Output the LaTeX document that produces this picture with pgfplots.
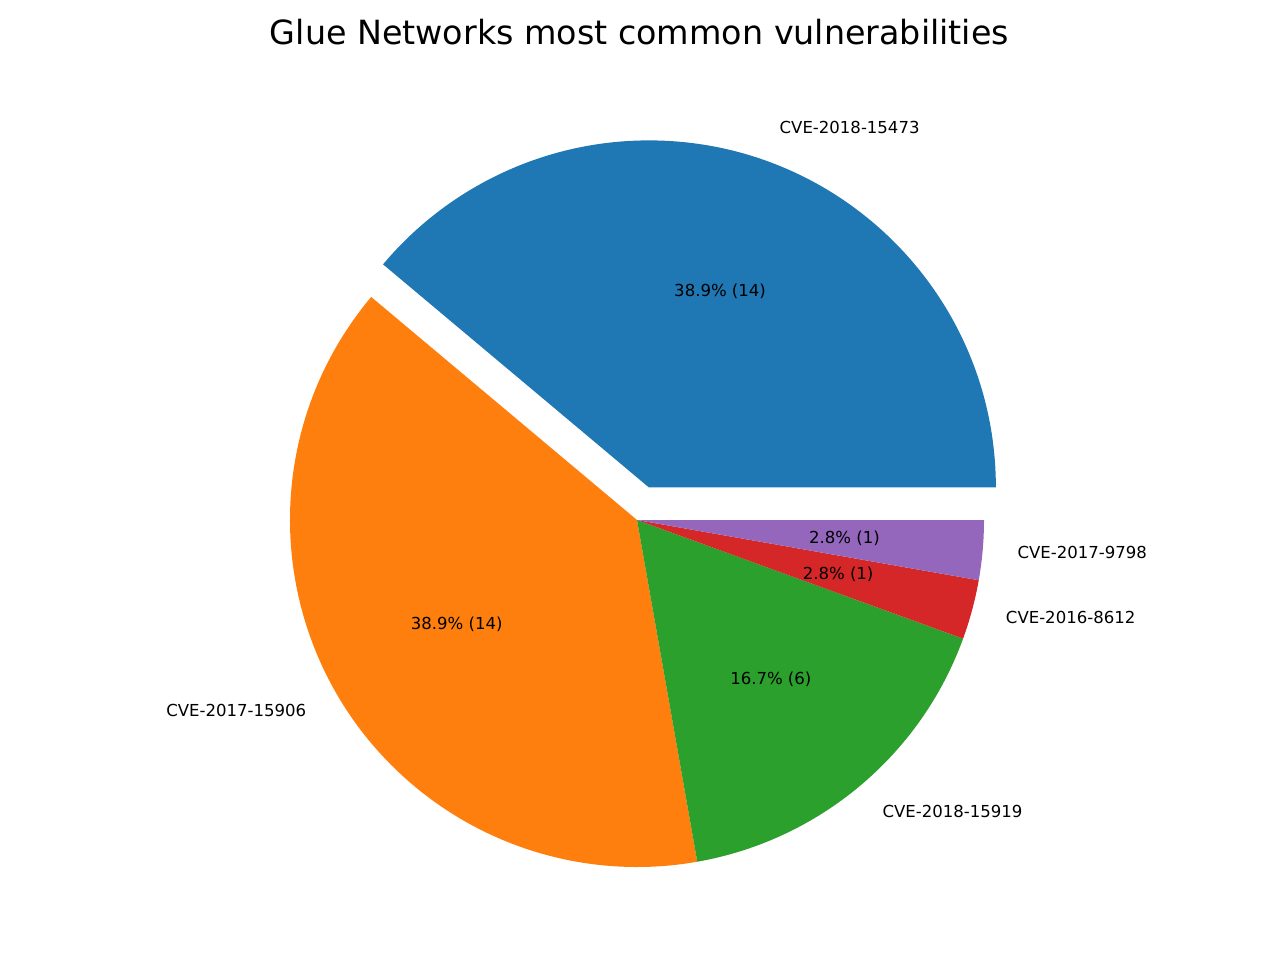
\documentclass[border=0pt]{standalone}
\usepackage{pgfplots}
\usepackage{pgfplotstable}
\pgfplotsset{compat=1.18}
\usepackage{fontspec}
\setmainfont{DejaVu Sans}

\definecolor{c0}{HTML}{1F77B4}
\definecolor{c1}{HTML}{FF7F0E}
\definecolor{c2}{HTML}{2CA02C}
\definecolor{c3}{HTML}{D62728}
\definecolor{c4}{HTML}{9467BD}

\pgfplotstableread{
label value explode
CVE-2018-15473 14 0.1
CVE-2017-15906 14 0
CVE-2018-15919 6 0
CVE-2016-8612 1 0
CVE-2017-9798 1 0
}\piedata

\begin{document}%
\begin{tikzpicture}
% totals and angles (counter-clockwise from 0 deg, as matplotlib)
\pgfplotstablegetrowsof{\piedata}%
\pgfmathtruncatemacro{\nrows}{\pgfplotsretval-1}%
\gdef\total{0}%
\foreach \i in {0,...,\nrows}{%
  \pgfplotstablegetelem{\i}{value}\of\piedata
  \pgfmathsetmacro\t{\total+\pgfplotsretval}\xdef\total{\t}}%
\gdef\cum{0}%
\foreach \i in {0,...,\nrows}{%
  \pgfplotstablegetelem{\i}{value}\of\piedata \let\v\pgfplotsretval
  \pgfplotstablegetelem{\i}{explode}\of\piedata \let\e\pgfplotsretval
  \pgfplotstablegetelem{\i}{label}\of\piedata \let\lab\pgfplotsretval
  \pgfmathsetmacro\a{\cum}%
  \pgfmathsetmacro\b{\cum+360*\v/\total}%
  \pgfmathsetmacro\m{(\a+\b)/2}%
  \pgfmathsetmacro\ox{\e*cos(\m)}%
  \pgfmathsetmacro\oy{\e*sin(\m)}%
  \pgfmathsetmacro\lx{(1.1+\e)*cos(\m)}%
  \pgfmathsetmacro\ly{(1.1+\e)*sin(\m)}%
  \pgfmathsetmacro\px{(0.6+\e)*cos(\m)}%
  \pgfmathsetmacro\py{(0.6+\e)*sin(\m)}%
  \pgfmathsetmacro\pct{100*\v/\total}%
  \pgfmathparse{cos(\m)>0?1:0}%
  \ifdim\pgfmathresult pt>0.5pt \def\anc{west}\else\def\anc{east}\fi
  \expandafter\xdef\csname pa\i\endcsname{\a}%
  \expandafter\xdef\csname pb\i\endcsname{\b}%
  \expandafter\xdef\csname ox\i\endcsname{\ox}%
  \expandafter\xdef\csname oy\i\endcsname{\oy}%
  \expandafter\xdef\csname lx\i\endcsname{\lx}%
  \expandafter\xdef\csname ly\i\endcsname{\ly}%
  \expandafter\xdef\csname px\i\endcsname{\px}%
  \expandafter\xdef\csname py\i\endcsname{\py}%
  \expandafter\xdef\csname pc\i\endcsname{\pct}%
  \expandafter\xdef\csname pv\i\endcsname{\v}%
  \expandafter\xdef\csname an\i\endcsname{\anc}%
  \expandafter\xdef\csname lb\i\endcsname{\lab}%
  \xdef\cum{\b}}%
\def\R{249.84pt}%
\begin{axis}[
  scale only axis, width=921.6pt, height=691.2pt,
  xmin=-1.8357, xmax=1.8530, ymin=-1.2680, ymax=1.4986,
  hide axis, clip=false]
\pgfplotsinvokeforeach{0,...,4}{%
  \fill[c#1] (axis cs:{\csname ox#1\endcsname},{\csname oy#1\endcsname})
     -- ++({\csname pa#1\endcsname}:\R)
     arc[start angle={\csname pa#1\endcsname}, end angle={\csname pb#1\endcsname}, radius=\R]
     -- cycle;
}
\pgfplotsinvokeforeach{0,...,4}{%
  \node[anchor=\csname an#1\endcsname, inner sep=0pt, yshift=0.6pt, font=\fontsize{11.9}{14}\selectfont]
     at (axis cs:{\csname lx#1\endcsname},{\csname ly#1\endcsname}) {\csname lb#1\endcsname};
  \node[anchor=center, inner sep=0pt, yshift=0pt, font=\fontsize{11.9}{14}\selectfont]
     at (axis cs:{\csname px#1\endcsname},{\csname py#1\endcsname})
     {\pgfmathprintnumber[fixed,precision=1,fixed zerofill,assume math mode=true]{\csname pc#1\endcsname}\% (\csname pv#1\endcsname)};
}
\node[anchor=base, inner sep=0pt, font=\fontsize{24}{28}\selectfont]
  at (axis cs:0.0072,1.3689) {Glue Networks most common vulnerabilities};
\end{axis}
\pgfresetboundingbox
\useasboundingbox (current axis.south west) rectangle (current axis.north east);
\end{tikzpicture}%
\end{document}
